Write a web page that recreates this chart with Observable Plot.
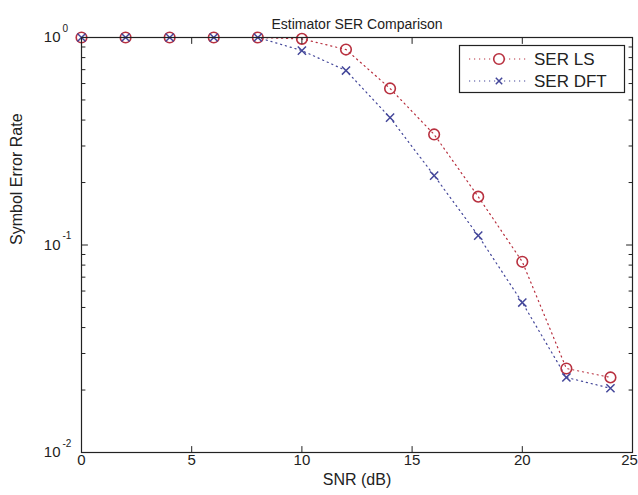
<!DOCTYPE html>
<html>
<head>
<meta charset="utf-8">
<script src="https://cdn.jsdelivr.net/npm/d3@7"></script>
<script src="https://cdn.jsdelivr.net/npm/@observablehq/plot@0.6"></script>
<style>
  html, body { margin: 0; padding: 0; background: #fff; }
  #wrap { position: relative; width: 638px; height: 495px; }
  #legend { position: absolute; left: 0; top: 0; }
  text { font-family: "Liberation Sans", Arial, sans-serif; }
</style>
</head>
<body>
<div id="wrap"></div>
<script>
// ---- data ----
const snr = [0, 2, 4, 6, 8, 10, 12, 14, 16, 18, 20, 22, 24];
const serLS  = [1, 1, 1, 1, 1, 0.985, 0.875, 0.568, 0.341, 0.171, 0.083, 0.0254, 0.0230];
const serDFT = [1, 1, 1, 1, 1, 0.865, 0.693, 0.411, 0.216, 0.111, 0.0528, 0.0230, 0.0204];
const seriesNames = ["SER LS", "SER DFT"];
const xTicks = [0, 5, 10, 15, 20, 25];
const yMajor = [1, 0.1, 0.01];
const yExpLabels = ["0", "-1", "-2"];
const yMinor = [2,3,4,5,6,7,8,9].flatMap(m => [0.01 * m, 0.1 * m]);
const titleText = "Estimator SER Comparison";
const xLabel = "SNR (dB)";
const yLabel = "Symbol Error Rate";

const colLS = "#b8303f";
const colDFT = "#44479a";
const font = "Liberation Sans, Arial, sans-serif";

const lsData = snr.map((x, i) => ({x, y: serLS[i]}));
const dftData = snr.map((x, i) => ({x, y: serDFT[i]}));

const stick = {draw(ctx, l) { ctx.moveTo(0, 0); ctx.lineTo(0, -l); }};
const tickMarks = (data, opts, len) => Plot.vector(data, {...opts, length: len, anchor: "start", shape: stick, stroke: "#222", strokeWidth: 1});
const lastTick = xTicks[xTicks.length - 1];

const chart = Plot.plot({
  width: 638,
  height: 495,
  marginLeft: 81,
  marginRight: 6,
  marginTop: 37,
  marginBottom: 43,
  style: {fontFamily: font, background: "#fff", color: "#222"},
  x: {domain: [0, 25], axis: null},
  y: {type: "log", domain: [0.01, 1], axis: null},
  marks: [
    // dotted lines
    Plot.line(lsData, {x: "x", y: "y", stroke: colLS, strokeWidth: 1.2, strokeDasharray: "1.2,3.8"}),
    Plot.line(dftData, {x: "x", y: "y", stroke: colDFT, strokeWidth: 1.2, strokeDasharray: "1.2,3.8"}),
    // markers
    Plot.dot(lsData, {x: "x", y: "y", r: 5.3, stroke: colLS, strokeWidth: 1.6, symbol: "circle"}),
    Plot.dot(dftData, {x: "x", y: "y", r: 3.8, stroke: colDFT, strokeWidth: 1.5, symbol: "times"}),
    // frame
    Plot.frame({stroke: "#222", strokeWidth: 1.2}),
    // x ticks (inward) bottom and top
    tickMarks(xTicks, {x: d => d, frameAnchor: "bottom", rotate: 0}, 6),
    tickMarks(xTicks, {x: d => d, frameAnchor: "top", rotate: 180}, 6),
    // y ticks inward left / right
    tickMarks(yMajor, {y: d => d, frameAnchor: "left", rotate: 90}, 6),
    tickMarks(yMajor, {y: d => d, frameAnchor: "right", rotate: -90}, 6),
    tickMarks(yMinor, {y: d => d, frameAnchor: "left", rotate: 90}, 3.5),
    tickMarks(yMinor, {y: d => d, frameAnchor: "right", rotate: -90}, 3.5),
    // x tick labels
    Plot.text(xTicks.filter(d => d !== lastTick), {x: d => d, frameAnchor: "bottom", dy: 12, text: d => String(d), fontSize: 15, fill: "#222"}),
    Plot.text([lastTick], {x: d => d, frameAnchor: "bottom", dy: 12, dx: -3, text: d => String(d), fontSize: 15, fill: "#222"}),
    // y tick labels: base + exponent
    Plot.text(yMajor, {y: d => d, frameAnchor: "left", dx: -21, dy: 0, textAnchor: "end", text: () => "10", fontSize: 15, fill: "#222"}),
    Plot.text(yMajor, {y: d => d, frameAnchor: "left", dx: -19, dy: -9, textAnchor: "start", text: (d, i) => yExpLabels[i], fontSize: 10, fill: "#222"}),
    // title and axis labels
    Plot.text([titleText], {frameAnchor: "top", dy: -18, text: d => d, fontSize: 14, fill: "#222"}),
    Plot.text([xLabel], {frameAnchor: "bottom", dy: 32, text: d => d, fontSize: 16, fill: "#222"}),
    Plot.text([yLabel], {frameAnchor: "left", dx: -65, rotate: -90, text: d => d, fontSize: 16, fill: "#222"})
  ]
});

const wrap = document.getElementById("wrap");
wrap.appendChild(chart);

// legend overlay
const lg = d3.select(wrap).append("svg").attr("id", "legend")
  .attr("width", 638).attr("height", 495)
  .style("pointer-events", "none");
const box = {x: 459, y: 45, w: 165, h: 47};
lg.append("rect").attr("x", box.x + 0.5).attr("y", box.y + 0.5).attr("width", box.w).attr("height", box.h)
  .attr("fill", "#fff").attr("stroke", "#222").attr("stroke-width", 1.2);
const rows = [
  {name: seriesNames[0], color: colLS, sym: "circle"},
  {name: seriesNames[1], color: colDFT, sym: "times"}
];
rows.forEach((r, i) => {
  const cy = box.y + 14 + i * 22;
  lg.append("line").attr("x1", 469).attr("x2", 529).attr("y1", cy).attr("y2", cy)
    .attr("stroke", r.color).attr("stroke-width", 1.2).attr("stroke-dasharray", "1.2,3.8");
  if (r.sym === "circle") {
    lg.append("circle").attr("cx", 499).attr("cy", cy).attr("r", 5.3).attr("fill", "#fff")
      .attr("stroke", r.color).attr("stroke-width", 1.6);
  } else {
    const s = 3.2;
    lg.append("path").attr("d", `M${499-s},${cy-s}L${499+s},${cy+s}M${499-s},${cy+s}L${499+s},${cy-s}`)
      .attr("stroke", r.color).attr("stroke-width", 1.5).attr("fill", "none");
  }
  lg.append("text").attr("x", 534).attr("y", cy).attr("dy", "0.35em")
    .attr("font-size", 17).attr("fill", "#222").style("font-family", font).text(r.name);
});
</script>
</body>
</html>
